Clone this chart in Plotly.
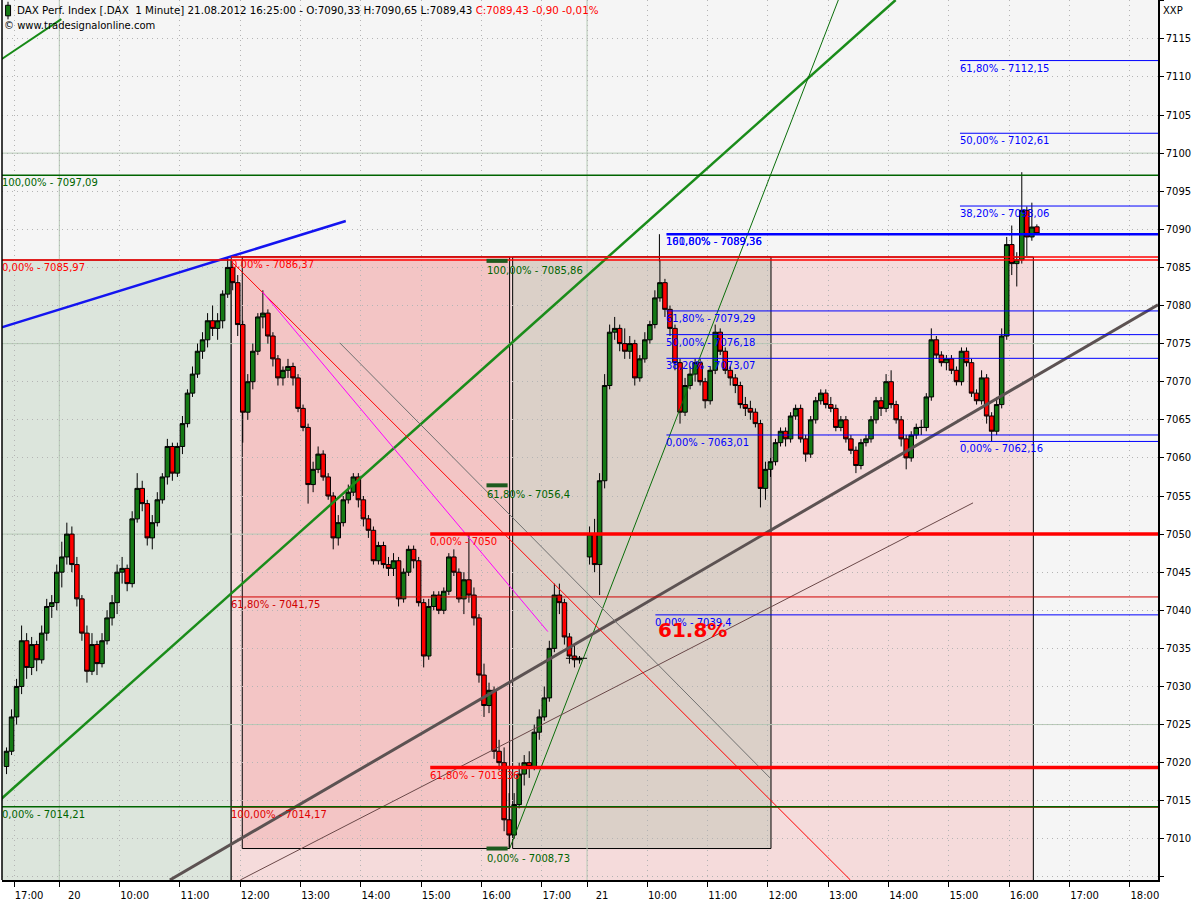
import plotly.graph_objects as go

FONT = "DejaVu Sans"

# ---------------- compressed session time axis (minutes) ----------------
SESSION_BASE = {17: -17 * 60, 20: 45 - 9 * 60, 21: 570 - 9 * 60}


def tix(day, hhmm):
    h, m = hhmm.split(":")
    return SESSION_BASE[day] + int(h) * 60 + int(m)


# ---------------- candle data (5-minute OHLC) ----------------
BAR_MINUTES = 5

d17_first = "16:50"
d17_bars = [
    (7019.5, 7022.0, 7018.5, 7021.5), (7021.5, 7027.0, 7021.0, 7026.0),
    (7026.0, 7031.0, 7025.0, 7030.0), (7030.0, 7038.0, 7029.0, 7036.0),
    (7036.0, 7037.0, 7031.0, 7032.5), (7032.5, 7036.5, 7031.5, 7035.5),
    (7035.5, 7036.0, 7032.0, 7033.5), (7033.5, 7038.0, 7033.0, 7037.0),
    (7037.0, 7041.5, 7036.0, 7040.5), (7040.5, 7042.0, 7039.0, 7041.0),
    (7041.0, 7046.0, 7040.0, 7045.0),
]

d20_first = "09:00"
d20_bars = [
    (7045.0, 7049.0, 7043.0, 7047.0), (7047.0, 7051.5, 7046.0, 7050.0),
    (7050.0, 7051.0, 7045.0, 7046.0), (7046.0, 7047.0, 7040.5, 7041.5),
    (7041.5, 7042.0, 7036.0, 7037.0), (7037.0, 7038.0, 7030.5, 7032.0),
    (7032.0, 7037.0, 7031.5, 7035.5), (7035.5, 7036.0, 7031.5, 7033.0),
    (7033.0, 7037.0, 7032.5, 7036.0), (7036.0, 7040.0, 7035.5, 7039.0),
    (7039.0, 7042.0, 7038.0, 7041.0), (7041.0, 7046.0, 7039.5, 7045.0),
    (7045.0, 7047.0, 7043.5, 7045.5), (7045.5, 7046.0, 7042.5, 7043.5),
    (7043.5, 7053.0, 7043.0, 7052.0), (7052.0, 7058.0, 7051.5, 7056.0),
    (7056.0, 7057.0, 7053.0, 7054.0), (7054.0, 7054.5, 7048.5, 7049.5),
    (7049.5, 7052.5, 7048.0, 7051.5), (7051.5, 7055.5, 7051.0, 7054.5),
    (7054.5, 7058.0, 7054.0, 7057.5), (7057.5, 7062.5, 7056.5, 7061.5),
    (7061.5, 7062.0, 7057.0, 7058.0), (7058.0, 7062.0, 7057.5, 7061.5),
    (7061.5, 7065.5, 7060.5, 7064.5), (7064.5, 7069.0, 7064.0, 7068.5),
    (7068.5, 7072.0, 7068.0, 7071.0), (7071.0, 7075.0, 7070.5, 7074.0),
    (7074.0, 7076.5, 7073.0, 7075.5), (7075.5, 7079.0, 7074.5, 7078.0),
    (7078.0, 7080.0, 7076.0, 7077.0), (7077.0, 7079.0, 7075.5, 7078.0),
    (7078.0, 7082.0, 7077.0, 7081.5), (7081.5, 7086.37, 7081.0, 7085.0),
    (7085.0, 7085.5, 7082.0, 7083.0), (7083.0, 7084.0, 7076.0, 7077.5),
    (7077.5, 7078.0, 7062.0, 7066.0), (7066.0, 7071.0, 7065.0, 7070.0),
    (7070.0, 7075.0, 7069.0, 7074.0), (7074.0, 7079.0, 7073.5, 7078.5),
    (7078.5, 7082.0, 7077.0, 7079.0), (7079.0, 7079.5, 7075.0, 7076.0),
    (7076.0, 7076.5, 7072.0, 7073.0), (7073.0, 7073.5, 7069.5, 7070.5),
    (7070.5, 7072.0, 7069.5, 7071.5), (7071.5, 7073.0, 7070.5, 7072.0),
    (7072.0, 7072.5, 7069.5, 7070.5), (7070.5, 7071.0, 7066.0, 7066.5),
    (7066.5, 7067.0, 7063.5, 7064.0), (7064.0, 7064.5, 7054.0, 7056.5),
    (7056.5, 7059.5, 7055.5, 7058.5), (7058.5, 7061.5, 7058.0, 7060.5),
    (7060.5, 7061.0, 7057.0, 7057.5), (7057.5, 7058.0, 7054.5, 7055.0),
    (7055.0, 7055.5, 7048.0, 7049.5), (7049.5, 7052.5, 7048.5, 7051.5),
    (7051.5, 7055.0, 7051.0, 7054.5), (7054.5, 7056.5, 7054.0, 7055.5),
    (7055.5, 7058.0, 7055.0, 7057.5), (7057.5, 7058.0, 7053.5, 7054.5),
    (7054.5, 7055.0, 7051.0, 7052.0), (7052.0, 7052.5, 7049.5, 7050.5),
    (7050.5, 7051.0, 7046.0, 7046.5), (7046.5, 7049.0, 7046.0, 7048.5),
    (7048.5, 7049.0, 7045.5, 7046.0), (7046.0, 7047.0, 7044.5, 7045.5),
    (7045.5, 7047.5, 7044.5, 7046.5), (7046.5, 7047.0, 7040.5, 7041.5),
    (7041.5, 7045.5, 7041.0, 7045.0), (7045.0, 7048.5, 7044.5, 7048.0),
    (7048.0, 7048.5, 7045.5, 7046.5), (7046.5, 7047.0, 7040.5, 7041.0),
    (7041.0, 7041.5, 7032.5, 7034.0), (7034.0, 7041.5, 7033.5, 7040.5),
    (7040.5, 7042.5, 7040.0, 7042.0), (7042.0, 7042.5, 7039.5, 7040.0),
    (7040.0, 7043.0, 7039.5, 7042.5), (7042.5, 7047.5, 7042.0, 7047.0),
    (7047.0, 7048.0, 7044.5, 7045.0), (7045.0, 7045.5, 7041.0, 7041.5),
    (7041.5, 7045.0, 7039.5, 7044.0), (7044.0, 7050.0, 7041.0, 7042.0),
    (7042.0, 7043.0, 7038.0, 7039.0), (7039.0, 7039.5, 7030.5, 7031.5),
    (7031.5, 7033.0, 7026.0, 7027.5), (7027.5, 7030.5, 7026.5, 7029.5),
    (7029.5, 7030.0, 7020.5, 7021.5), (7021.5, 7023.0, 7019.0, 7020.0),
    (7020.0, 7022.0, 7011.0, 7012.5), (7012.5, 7016.0, 7008.73, 7010.5),
    (7010.5, 7016.0, 7010.0, 7014.5), (7014.5, 7020.0, 7014.0, 7018.5),
    (7018.5, 7021.0, 7017.0, 7020.0), (7020.0, 7021.5, 7018.0, 7019.5),
    (7019.5, 7025.0, 7019.0, 7024.0), (7024.0, 7027.0, 7023.0, 7026.0),
    (7026.0, 7030.0, 7025.5, 7028.5), (7028.5, 7036.0, 7028.0, 7035.0),
    (7035.0, 7043.5, 7034.5, 7042.0), (7042.0, 7043.5, 7039.5, 7041.0),
    (7041.0, 7041.5, 7035.5, 7036.5), (7036.5, 7037.0, 7033.0, 7034.0),
    (7034.0, 7035.5, 7032.5, 7033.5), (7033.5, 7034.0, 7033.0, 7033.7),
]

d21_first = "09:00"
d21_bars = [
    (7047.0, 7051.0, 7046.0, 7050.0), (7050.0, 7052.0, 7045.0, 7046.0),
    (7046.0, 7058.0, 7042.0, 7057.0), (7057.0, 7071.0, 7056.0, 7069.5),
    (7069.5, 7077.5, 7069.0, 7076.5), (7076.5, 7078.5, 7075.5, 7077.0),
    (7077.0, 7077.5, 7074.0, 7075.0), (7075.0, 7077.0, 7073.0, 7074.0),
    (7074.0, 7076.0, 7073.0, 7075.0), (7075.0, 7075.5, 7069.5, 7070.5),
    (7070.5, 7073.5, 7070.0, 7073.0), (7073.0, 7076.5, 7072.5, 7075.5),
    (7075.5, 7078.0, 7075.0, 7077.5), (7077.5, 7082.0, 7077.0, 7081.0),
    (7081.0, 7086.0, 7080.5, 7083.0), (7083.0, 7083.5, 7078.5, 7079.5),
    (7079.5, 7080.0, 7076.0, 7077.0), (7077.0, 7077.5, 7071.5, 7072.5),
    (7072.5, 7073.0, 7064.5, 7066.0), (7066.0, 7070.5, 7065.5, 7069.5),
    (7069.5, 7072.0, 7069.0, 7071.0), (7071.0, 7073.0, 7070.0, 7072.5),
    (7072.5, 7073.0, 7069.5, 7070.0), (7070.0, 7070.5, 7066.5, 7067.5),
    (7067.5, 7072.0, 7067.0, 7071.5), (7071.5, 7077.5, 7071.0, 7076.5),
    (7076.5, 7077.0, 7073.5, 7074.0), (7074.0, 7074.5, 7071.0, 7071.5),
    (7071.5, 7072.0, 7069.5, 7070.5), (7070.5, 7071.0, 7068.5, 7069.5),
    (7069.5, 7070.0, 7066.5, 7067.0), (7067.0, 7068.0, 7065.5, 7066.5),
    (7066.5, 7067.5, 7065.0, 7066.0), (7066.0, 7066.5, 7064.0, 7064.5),
    (7064.5, 7065.0, 7053.5, 7056.0), (7056.0, 7059.5, 7054.5, 7058.5),
    (7058.5, 7060.0, 7057.5, 7059.5), (7059.5, 7062.5, 7059.0, 7062.0),
    (7062.0, 7064.0, 7061.5, 7063.5), (7063.5, 7064.0, 7061.5, 7062.5),
    (7062.5, 7066.0, 7062.0, 7065.5), (7065.5, 7067.0, 7065.0, 7066.5),
    (7066.5, 7067.0, 7062.0, 7062.5), (7062.5, 7063.0, 7059.5, 7060.5),
    (7060.5, 7065.5, 7060.0, 7065.0), (7065.0, 7068.0, 7064.5, 7067.5),
    (7067.5, 7069.0, 7067.0, 7068.5), (7068.5, 7069.0, 7066.5, 7067.0),
    (7067.0, 7068.0, 7066.0, 7066.5), (7066.5, 7067.0, 7063.5, 7064.0),
    (7064.0, 7065.5, 7063.5, 7065.0), (7065.0, 7065.5, 7062.0, 7062.5),
    (7062.5, 7063.0, 7060.5, 7061.0), (7061.0, 7061.5, 7058.0, 7059.0),
    (7059.0, 7062.5, 7058.5, 7062.0), (7062.0, 7063.0, 7061.5, 7062.5),
    (7062.5, 7065.5, 7062.0, 7065.0), (7065.0, 7068.0, 7064.5, 7067.5),
    (7067.5, 7068.0, 7065.5, 7066.5), (7066.5, 7071.0, 7066.0, 7070.0),
    (7070.0, 7071.5, 7066.5, 7067.0), (7067.0, 7067.5, 7064.5, 7065.0),
    (7065.0, 7065.5, 7061.5, 7062.5), (7062.5, 7063.0, 7058.5, 7060.0),
    (7060.0, 7063.5, 7059.5, 7063.0), (7063.0, 7064.5, 7062.5, 7064.0),
    (7064.0, 7065.0, 7063.0, 7064.0), (7064.0, 7068.5, 7063.5, 7068.0),
    (7068.0, 7077.0, 7067.5, 7075.5), (7075.5, 7076.0, 7073.0, 7073.5),
    (7073.5, 7074.0, 7072.0, 7072.5), (7072.5, 7073.5, 7071.5, 7073.0),
    (7073.0, 7073.5, 7071.0, 7071.5), (7071.5, 7072.0, 7069.5, 7070.0),
    (7070.0, 7074.5, 7069.5, 7074.0), (7074.0, 7074.5, 7072.0, 7072.5),
    (7072.5, 7073.0, 7068.0, 7068.5), (7068.5, 7069.0, 7067.0, 7067.5),
    (7067.5, 7071.5, 7067.0, 7070.5), (7070.5, 7071.0, 7064.5, 7065.5),
    (7065.5, 7066.0, 7062.16, 7063.5), (7063.5, 7068.0, 7063.0, 7067.0),
    (7067.0, 7077.0, 7066.5, 7076.0), (7076.0, 7089.0, 7075.5, 7088.0),
    (7088.0, 7090.5, 7084.0, 7085.5), (7085.5, 7087.0, 7082.5, 7086.0),
    (7086.0, 7097.5, 7085.5, 7092.5), (7092.5, 7093.0, 7086.5, 7089.0),
    (7089.0, 7093.5, 7088.5, 7090.3), (7090.33, 7090.65, 7089.43, 7089.43),
]

# ---------------- axis definitions ----------------
view_start = (17, "16:48")
view_end = (21, "18:28")
price_view = [7004.6, 7120.1]
price_ticks = [7005, 7010, 7015, 7020, 7025, 7030, 7035, 7040, 7045, 7050, 7055,
               7060, 7065, 7070, 7075, 7080, 7085, 7090, 7095, 7100, 7105, 7110,
               7115, 7120]
price_tick_text = ["", "7010", "7015", "7020", "7025", "7030", "7035", "7040",
                   "7045", "7050", "7055", "7060", "7065", "7070", "7075", "7080",
                   "7085", "7090", "7095", "7100", "7105", "7110", "7115", ""]

tick_list = [
    (17, "17:00", "17:00"), (20, "09:00", "20"), (20, "10:00", "10:00"),
    (20, "11:00", "11:00"), (20, "12:00", "12:00"), (20, "13:00", "13:00"),
    (20, "14:00", "14:00"), (20, "15:00", "15:00"), (20, "16:00", "16:00"),
    (20, "17:00", "17:00"), (21, "09:00", "21"), (21, "10:00", "10:00"),
    (21, "11:00", "11:00"), (21, "12:00", "12:00"), (21, "13:00", "13:00"),
    (21, "14:00", "14:00"), (21, "15:00", "15:00"), (21, "16:00", "16:00"),
    (21, "17:00", "17:00"), (21, "18:00", "18:00"),
]

# ---------------- drawing objects (time, price) ----------------
# shaded Fibonacci boxes: x0, x1 (None = beyond view), top, bottom (None = beyond view), fill
boxes = [
    (None, (20, "11:51"), 7085.97, None, "#dce5dc"),
    ((20, "11:51"), (21, "16:24"), 7086.37, None, "#f5dbdb"),
    ((20, "12:02"), (20, "16:28"), 7086.37, 7008.73, "#f3c5c5"),
    ((20, "16:31"), (21, "12:03"), 7086.37, 7008.73, "#dbd0c8"),
]
major_prices = [7025, 7050, 7075, 7100]
day_breaks = [(20, "09:00"), (21, "09:00")]

# horizontal levels: price, start (None = left edge), colour, width, label
red_levels = [
    (7085.97, None, "#ff0000", 1.5, "0,00% - 7085,97"),
    (7086.37, (20, "11:51"), "#ff0000", 1.5, "0,00% - 7086,37"),
    (7014.17, (20, "11:51"), "#e00000", 1.2, "100,00% - 7014,17"),
    (7041.75, (20, "11:51"), "#d00000", 1, "61,80% - 7041,75"),
    (7050.00, (20, "15:09"), "#ff0000", 3.5, "0,00% - 7050"),
    (7019.36, (20, "15:09"), "#ff0000", 3.5, "61,80% - 7019,36"),
]
green_levels = [
    (7097.09, None, "#006400", 1.5, "100,00% - 7097,09"),
    (7014.21, None, "#006400", 1.5, "0,00% - 7014,21"),
]
blue_levels = [
    (7089.36, (21, "10:19"), "#0000ff", 2.5, "161,80% - 7089,36"),
    (7079.29, (21, "10:19"), "#0000ff", 1, "61,80% - 7079,29"),
    (7076.18, (21, "10:19"), "#0000ff", 1, "50,00% - 7076,18"),
    (7073.07, (21, "10:19"), "#0000ff", 1, "38,20% - 7073,07"),
    (7063.01, (21, "10:19"), "#0000ff", 1, "0,00% - 7063,01"),
    (7112.15, (21, "15:11"), "#0000ff", 1, "61,80% - 7112,15"),
    (7102.61, (21, "15:11"), "#0000ff", 1, "50,00% - 7102,61"),
    (7093.06, (21, "15:11"), "#0000ff", 1, "38,20% - 7093,06"),
    (7062.16, (21, "15:11"), "#0000ff", 1, "0,00% - 7062,16"),
    (7039.40, (21, "10:08"), "#0000ff", 1, "0,00% - 7039,4"),
]
extra_labels = [
    ((21, "10:19"), 7089.36, "#0000ff", "100,00% - 7089,36"),
    ((21, "10:19"), 7120.44, "#0000ff", "100,00% - 7120,44"),
]
# short green marker levels: price, from, to, label
green_marks = [
    (7085.86, (20, "16:05"), (20, "16:26"), "100,00% - 7085,86"),
    (7056.40, (20, "16:05"), (20, "16:26"), "61,80% - 7056,4"),
    (7008.73, (20, "16:05"), (20, "16:26"), "0,00% - 7008,73"),
]
# trend lines: start, price, end, price, colour, width
trend_lines = [
    ((17, "16:46"), 7112.2, (20, "09:02"), 7117.6, "#168a16", 2),
    ((17, "16:46"), 7015.1, (21, "14:07"), 7120.1, "#1a8c1a", 2.5),
    ((20, "16:28"), 7008.73, (21, "13:10"), 7120.1, "#0a6e0a", 1),
    ((17, "16:46"), 7077.07, (20, "13:45"), 7091.1, "#1414f0", 2.5),
    ((20, "10:50"), 7004.6, (21, "18:28"), 7080.1, "#5c5252", 3),
    ((20, "12:00"), 7004.6, (21, "15:24"), 7054.1, "#6a4848", 1),
    ((20, "11:52"), 7085.7, (21, "13:22"), 7004.6, "#ff0000", 1),
    ((20, "12:22"), 7081.8, (20, "17:06"), 7037.2, "#ff00ff", 1),
    ((20, "13:39"), 7075.1, (21, "12:02"), 7018.0, "#707070", 1),
]
small_segments = [
    ((21, "10:12"), 7089.36, (21, "10:12"), 7085.8, "#000000", 1),
    ((20, "17:24"), 7033.7, (21, "09:00"), 7033.7, "#000000", 1),
]
big_label = ((21, "10:45"), 7037.4, "61.8%")

header_black = ("DAX Perf. Index [.DAX\u00a0 1 Minute] 21.08.2012 16:25:00 - "
                "O:7090,33 H:7090,65 L:7089,43 ")
header_red = "C:7089,43 -0,90 -0,01%"
copyright_text = "\u00a9 www.tradesignalonline.com"
axis_title = "XXP"

# ---------------- build figure ----------------
xs, o, h, l, c = [], [], [], [], []
for day, first, bars in ((17, d17_first, d17_bars), (20, d20_first, d20_bars),
                         (21, d21_first, d21_bars)):
    t0 = tix(day, first)
    for i, (bo, bh, bl, bc) in enumerate(bars):
        xs.append(t0 + i * BAR_MINUTES + BAR_MINUTES / 2)
        o.append(bo)
        h.append(bh)
        l.append(bl)
        c.append(bc)

fig = go.Figure()
fig.add_trace(go.Candlestick(
    x=xs, open=o, high=h, low=l, close=c,
    increasing=dict(line=dict(color="#000000", width=1), fillcolor="#157a15"),
    decreasing=dict(line=dict(color="#000000", width=1), fillcolor="#ff0000"),
    whiskerwidth=0, hoverinfo="skip", showlegend=False,
))

x_lo = tix(*view_start)
x_hi = tix(*view_end)
FAR_L = x_lo - 100
FAR_R = x_hi + 100
FAR_B = price_view[0] - 20
FAR_T = price_view[1] + 20

shapes = []
annotations = []

for x0, x1, top, bot, fill in boxes:
    shapes.append(dict(
        type="rect", xref="x", yref="y",
        x0=FAR_L if x0 is None else tix(*x0), x1=tix(*x1),
        y0=FAR_B if bot is None else bot, y1=top,
        fillcolor=fill, line=dict(color="#000000", width=1), layer="below"))

for p in major_prices:
    shapes.append(dict(type="line", xref="x", yref="y", x0=FAR_L, x1=FAR_R, y0=p, y1=p,
                       line=dict(color="#b5c9b5", width=1), layer="below"))
for d in day_breaks:
    shapes.append(dict(type="line", xref="x", yref="y", x0=tix(*d), x1=tix(*d),
                       y0=FAR_B, y1=FAR_T, line=dict(color="#b5c9b5", width=1),
                       layer="below"))

for (s, p0, e, p1, col, w) in trend_lines + small_segments:
    shapes.append(dict(type="line", xref="x", yref="y", x0=tix(*s), y0=p0,
                       x1=tix(*e), y1=p1, line=dict(color=col, width=w), layer="above"))

label_font = dict(family=FONT, size=10)


def add_label(x, xref, y, text, color, yshift=0):
    annotations.append(dict(
        x=x, xref=xref, y=y, yref="y", text=text, showarrow=False,
        xanchor="left", yanchor="top", yshift=yshift, xshift=-2,
        font=dict(label_font, color=color)))


for p, start, col, w, lab in red_levels + green_levels + blue_levels:
    x0 = FAR_L if start is None else tix(*start)
    shapes.append(dict(type="line", xref="x", yref="y", x0=x0, x1=FAR_R,
                       y0=p, y1=p, line=dict(color=col, width=w), layer="above"))
    if start is None:
        add_label(0, "paper", p, lab, col)
    else:
        add_label(x0, "x", p, lab, col)

for start, p, col, lab in extra_labels:
    add_label(tix(*start), "x", p, lab, col)

for p, s, e, lab in green_marks:
    shapes.append(dict(type="line", xref="x", yref="y", x0=tix(*s), x1=tix(*e),
                       y0=p, y1=p, line=dict(color="#1e5a1e", width=4), layer="above"))
    add_label(tix(*s), "x", p, lab, "#006400", yshift=-2)

annotations.append(dict(
    x=tix(*big_label[0]), xref="x", y=big_label[1], yref="y", text=big_label[2],
    showarrow=False, xanchor="center", yanchor="middle",
    font=dict(family=FONT, size=20, color="#ff0000", weight="bold")))

# header texts
annotations.append(dict(
    x=0.011, xref="paper", y=0.9886, yref="paper", xanchor="left", yanchor="middle",
    showarrow=False,
    text=header_black + '<span style="color:#ff0000">' + header_red + "</span>",
    font=dict(family=FONT, size=10.3, color="#000000")))
annotations.append(dict(
    x=0.0, xref="paper", y=0.9705, yref="paper", xanchor="left", yanchor="middle",
    showarrow=False, text=copyright_text,
    font=dict(family=FONT, size=10, color="#000000")))
annotations.append(dict(
    x=1.003, xref="paper", y=0.9886, yref="paper", xanchor="left", yanchor="middle",
    showarrow=False, text=axis_title,
    font=dict(family=FONT, size=10, color="#000000")))

# little legend candle icon
shapes.append(dict(type="line", xref="paper", yref="paper", x0=0.0052, x1=0.0052,
                   y0=0.978, y1=0.998, line=dict(color="#000000", width=1), layer="above"))
shapes.append(dict(type="rect", xref="paper", yref="paper", x0=0.0031, x1=0.0074,
                   y0=0.982, y1=0.994, fillcolor="#157a15",
                   line=dict(color="#000000", width=1), layer="above"))
# left border of the plot area
shapes.append(dict(type="line", xref="paper", yref="paper", x0=0, x1=0, y0=0, y1=1,
                   line=dict(color="#000000", width=1.5), layer="above"))

fig.update_layout(
    width=1200, height=900,
    margin=dict(l=2, r=42, t=0, b=20, autoexpand=False),
    paper_bgcolor="#ffffff", plot_bgcolor="#f5f5f5",
    shapes=shapes, annotations=annotations,
    font=dict(family=FONT, size=10, color="#000000"),
    showlegend=False, boxgap=0.1, boxgroupgap=0.0,
    xaxis=dict(
        range=[x_lo, x_hi], rangeslider=dict(visible=False),
        tickvals=[tix(d, t) for d, t, _ in tick_list],
        ticktext=[lab for _, _, lab in tick_list],
        ticks="outside", ticklen=5, tickcolor="#000000",
        ticklabelshift=15, ticklabelstandoff=0,
        showgrid=True, gridcolor="#b4b4b4", griddash="1px,4px", gridwidth=1,
        showline=True, linecolor="#000000", linewidth=1.5, mirror=False,
        zeroline=False, tickfont=dict(family=FONT, size=10), automargin=False,
    ),
    yaxis=dict(
        range=price_view, side="right",
        tickvals=price_ticks, ticktext=price_tick_text,
        ticks="outside", ticklen=4, tickcolor="#000000",
        showgrid=True, gridcolor="#b4b4b4", griddash="1px,4px", gridwidth=1,
        showline=True, linecolor="#000000", linewidth=1.5,
        zeroline=False, tickfont=dict(family=FONT, size=10), automargin=False,
    ),
)

fig.write_html("out.html", config={"displayModeBar": False},
               post_script="document.body.style.margin='0px';")
